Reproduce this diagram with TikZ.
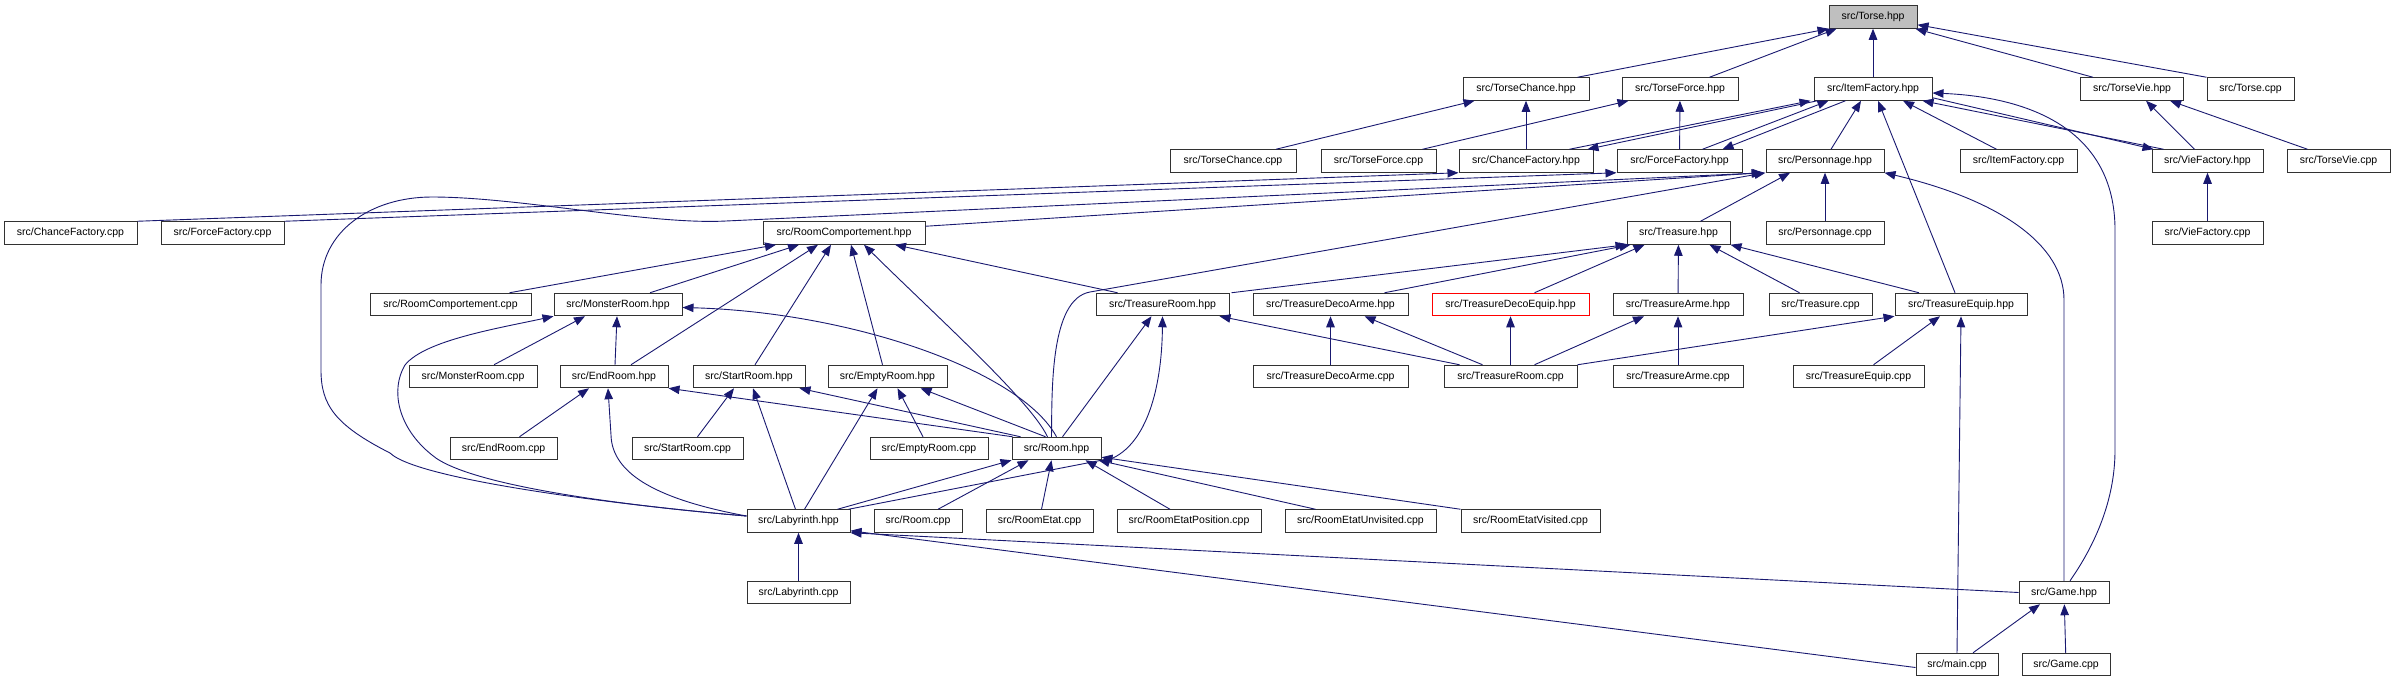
\documentclass[tikz,border=0pt]{standalone}
\usepackage{fontspec}
\setmainfont{Liberation Sans}
\usetikzlibrary{arrows.meta,calc}
\definecolor{navy}{RGB}{25,25,112}
\definecolor{boxline}{RGB}{50,50,50}
\tikzset{
  box/.style={draw=boxline, line width=1pt, fill=white, minimum height=22.5pt, inner sep=0pt,
    font=\fontsize{10.5pt}{12pt}\selectfont},
  root/.style={box, fill=black!25},
  redbox/.style={box, draw=red},
  inc/.style={draw=navy, line width=0.9pt, -{Triangle[length=11pt,width=8.5pt]}},
}
\begin{document}
\begin{tikzpicture}[x=1pt,y=-1pt]
\useasboundingbox (0,0) rectangle (2395,683);
% row 0
\node[root, minimum width=88pt] (torse) at (1873,17) {src/Torse.hpp};
% row 1
\node[box, minimum width=126pt] (tcH) at (1526,89) {src/TorseChance.hpp};
\node[box, minimum width=116pt] (tfH) at (1680,89) {src/TorseForce.hpp};
\node[box, minimum width=118pt] (itemH) at (1873,89) {src/ItemFactory.hpp};
\node[box, minimum width=103pt] (tvH) at (2132,89) {src/TorseVie.hpp};
\node[box, minimum width=87pt] (torseCpp) at (2250.5,89) {src/Torse.cpp};
% row 2
\node[box, minimum width=126pt] (tcCpp) at (1233,161) {src/TorseChance.cpp};
\node[box, minimum width=115pt] (tfCpp) at (1378.5,161) {src/TorseForce.cpp};
\node[box, minimum width=134pt] (cfH) at (1526,161) {src/ChanceFactory.hpp};
\node[box, minimum width=125pt] (ffH) at (1679.5,161) {src/ForceFactory.hpp};
\node[box, minimum width=118pt] (persH) at (1825,161) {src/Personnage.hpp};
\node[box, minimum width=117pt] (itemCpp) at (2018.5,161) {src/ItemFactory.cpp};
\node[box, minimum width=111pt] (vfH) at (2207.5,161) {src/VieFactory.hpp};
\node[box, minimum width=103pt] (tvCpp) at (2338.5,161) {src/TorseVie.cpp};
% row 3
\node[box, minimum width=133pt] (cfCpp) at (70.5,233) {src/ChanceFactory.cpp};
\node[box, minimum width=123pt] (ffCpp) at (222.5,233) {src/ForceFactory.cpp};
\node[box, minimum width=162pt] (rcH) at (844,233) {src/RoomComportement.hpp};
\node[box, minimum width=103pt] (treasH) at (1678.5,233) {src/Treasure.hpp};
\node[box, minimum width=118pt] (persCpp) at (1825,233) {src/Personnage.cpp};
\node[box, minimum width=111pt] (vfCpp) at (2207.5,233) {src/VieFactory.cpp};
% row 4
\node[box, minimum width=161pt] (rcCpp) at (450.5,304.5) {src/RoomComportement.cpp};
\node[box, minimum width=128pt] (mrH) at (618,304.5) {src/MonsterRoom.hpp};
\node[box, minimum width=133pt] (trH) at (1162.5,304.5) {src/TreasureRoom.hpp};
\node[box, minimum width=155pt] (tdaH) at (1330.5,304.5) {src/TreasureDecoArme.hpp};
\node[redbox, minimum width=157pt] (tdeH) at (1510.5,304.5) {src/TreasureDecoEquip.hpp};
\node[box, minimum width=130pt] (taH) at (1678,304.5) {src/TreasureArme.hpp};
\node[box, minimum width=103pt] (treasCpp) at (1820.5,304.5) {src/Treasure.cpp};
\node[box, minimum width=132pt] (teH) at (1961,304.5) {src/TreasureEquip.hpp};
% row 5
\node[box, minimum width=128pt] (mrCpp) at (473,376.5) {src/MonsterRoom.cpp};
\node[box, minimum width=108pt] (erH) at (614,376.5) {src/EndRoom.hpp};
\node[box, minimum width=112pt] (srH) at (749,376.5) {src/StartRoom.hpp};
\node[box, minimum width=119pt] (emH) at (887.5,376.5) {src/EmptyRoom.hpp};
\node[box, minimum width=155pt] (tdaCpp) at (1330.5,376.5) {src/TreasureDecoArme.cpp};
\node[box, minimum width=133pt] (trCpp) at (1510.5,376.5) {src/TreasureRoom.cpp};
\node[box, minimum width=130pt] (taCpp) at (1678,376.5) {src/TreasureArme.cpp};
\node[box, minimum width=131pt] (teCpp) at (1858.5,376.5) {src/TreasureEquip.cpp};
% row 6
\node[box, minimum width=107pt] (erCpp) at (503.5,448.5) {src/EndRoom.cpp};
\node[box, minimum width=111pt] (srCpp) at (687.5,448.5) {src/StartRoom.cpp};
\node[box, minimum width=118pt] (emCpp) at (929,448.5) {src/EmptyRoom.cpp};
\node[box, minimum width=89pt] (roomH) at (1056.5,448.5) {src/Room.hpp};
% row 7
\node[box, minimum width=103pt] (labH) at (798.5,521) {src/Labyrinth.hpp};
\node[box, minimum width=88pt] (roomCpp) at (918,521) {src/Room.cpp};
\node[box, minimum width=107pt] (reCpp) at (1039.5,521) {src/RoomEtat.cpp};
\node[box, minimum width=144pt] (repCpp) at (1189,521) {src/RoomEtatPosition.cpp};
\node[box, minimum width=151pt] (reuCpp) at (1360.5,521) {src/RoomEtatUnvisited.cpp};
\node[box, minimum width=139pt] (revCpp) at (1530.5,521) {src/RoomEtatVisited.cpp};
% row 8
\node[box, minimum width=103pt] (labCpp) at (798.5,592.5) {src/Labyrinth.cpp};
\node[box, minimum width=90pt] (gameH) at (2064,592.5) {src/Game.hpp};
% row 9
\node[box, minimum width=82pt] (mainCpp) at (1957,664.5) {src/main.cpp};
\node[box, minimum width=88pt] (gameCpp) at (2066,664.5) {src/Game.cpp};

% ---- edges into Torse.hpp
\draw[inc] ([xshift=-12pt]tcH.north east) -- (torse.south west);
\draw[inc] ([xshift=-29pt]tfH.north east) -- ([xshift=8pt]torse.south west);
\draw[inc] (itemH) -- (torse);
\draw[inc] ([xshift=13pt]tvH.north west) -- ([xshift=-2pt]torse.south east);
\draw[inc] (torseCpp.north west) -- ([yshift=4pt]torse.south east);
% TorseChance / TorseForce / TorseVie
\draw[inc] ([xshift=43pt]tcCpp.north) -- ([xshift=12pt]tcH.south west);
\draw[inc] (cfH) -- (tcH);
\draw[inc] ([xshift=44pt]tfCpp.north) -- ([xshift=7pt]tfH.south west);
\draw[inc] (ffH) -- (tfH);
\draw[inc] ([xshift=-13pt]vfH.north) -- ([xshift=14pt]tvH.south);
\draw[inc] ([xshift=-31pt]tvCpp.north) -- ([xshift=38pt]tvH.south);
% VieFactory
\draw[inc] (vfCpp) -- (vfH);
% ItemFactory cycles
\draw[inc] ([xshift=-24pt]cfH.north east) -- ([xshift=-3pt]itemH.south west);
\draw[inc] ([xshift=4pt]itemH.south west) -- ([xshift=-6pt]cfH.north east);
\draw[inc] ([xshift=-40pt]ffH.north east) -- ([xshift=15pt]itemH.south west);
\draw[inc] ([xshift=32pt]itemH.south west) -- ([xshift=-20pt]ffH.north east);
\draw[inc] ([xshift=12pt]vfH.north west) -- ([xshift=-10pt]itemH.south east);
\draw[inc] ([yshift=3pt]itemH.south east) -- ([xshift=2pt]vfH.north west);
\draw[inc] ([xshift=6pt]persH.north) -- ([xshift=-12pt]itemH.south);
\draw[inc] ([xshift=-22pt]itemCpp.north) -- ([xshift=30pt]itemH.south);
\draw[inc] ([xshift=-6pt]teH.north) -- ([xshift=5pt]itemH.south);
\draw[inc] ([xshift=6pt]gameH.north) .. controls (2095,545) and (2115,500) .. (2115,450)
   -- (2115,230) .. controls (2115,130) and (2030,97) .. ([yshift=-4pt]itemH.east);
% Personnage
\draw[inc] (persCpp) -- (persH);
\draw[inc] (gameH.north) -- (2064,300) .. controls (2064,245) and (2000,200) .. (persH.south east);
\draw[inc] ([xshift=22pt]treasH.north) -- ([xshift=-35pt]persH.south);
\draw[inc] ([xshift=-5pt]roomH.north) .. controls (1052,390) and (1050,299) .. (1090,292) -- (persH.south west);
\draw[inc] ([yshift=5pt]labH.west) .. controls (650,508) and (420,482) .. (390,453)
   .. controls (335,425) and (321,405) .. (321,370) -- (321,285)
   .. controls (321,232) and (370,197) .. (432,197)
   .. controls (520,197) and (650,225) .. (726,221) -- ([xshift=-2pt]persH.south west);
\draw[inc] ([yshift=-5pt]rcH.north east) -- ([xshift=-3pt]persH.south west);
% ChanceFactory.cpp / ForceFactory.cpp
\draw[inc] (cfCpp.north east) -- (cfH.south west);
\draw[inc] (ffCpp.north east) -- (ffH.south west);
% RoomComportement
\draw[inc] ([xshift=-22pt]rcCpp.north east) -- ([xshift=-68pt]rcH.south);
\draw[inc] ([xshift=32pt]mrH.north) -- ([xshift=-45pt]rcH.south);
\draw[inc] ([xshift=17pt]erH.north) -- ([xshift=-26pt]rcH.south);
\draw[inc] ([xshift=6pt]srH.north) -- ([xshift=-13pt]rcH.south);
\draw[inc] ([xshift=-5pt]emH.north) -- ([xshift=7pt]rcH.south);
\draw[inc] ([xshift=-9pt]roomH.north) .. controls (1030,400) and (935,315) .. ([xshift=20pt]rcH.south);
\draw[inc] ([xshift=-45pt]trH.north) -- ([xshift=51pt]rcH.south);
% MonsterRoom
\draw[inc] ([xshift=21pt]mrCpp.north) -- ([xshift=-33pt]mrH.south);
\draw[inc] ([xshift=1pt]erH.north) -- ([xshift=-1pt]mrH.south);
\draw[inc] (roomH.north) .. controls (1020,370) and (850,312) .. ([yshift=-3pt]mrH.east);
\draw[inc] ([yshift=5pt]labH.west) .. controls (650,508) and (470,488) .. (432,455)
   .. controls (398,428) and (390,390) .. (405,365) .. controls (425,340) and (500,328) .. (mrH.south west);
% EndRoom
\draw[inc] ([xshift=16pt]erCpp.north) -- ([xshift=-25pt]erH.south);
\draw[inc] ([xshift=1pt]roomH.north west) -- (erH.south east);
\draw[inc] ([yshift=5pt]labH.west) .. controls (660,500) and (612,475) .. (611,435) -- ([xshift=-6pt]erH.south);
% StartRoom
\draw[inc] ([xshift=10pt]srCpp.north) -- ([xshift=-15pt]srH.south);
\draw[inc] ([xshift=-3pt]labH.north) -- ([xshift=4pt]srH.south);
\draw[inc] ([xshift=9pt]roomH.north west) -- ([xshift=-6pt]srH.south east);
% EmptyRoom
\draw[inc] ([xshift=6pt]labH.north) -- ([xshift=-10pt]emH.south);
\draw[inc] ([xshift=-6pt]emCpp.north) -- ([xshift=10pt]emH.south);
\draw[inc] ([xshift=-11pt]roomH.north) -- ([xshift=33pt]emH.south);
% TreasureRoom
\draw[inc] ([xshift=6pt]roomH.north) -- ([xshift=-11pt]trH.south);
\draw[inc] ([xshift=-2pt]labH.north east) -- (1113,458) .. controls (1150,440) and (1162,380) .. (trH.south);
\draw[inc] ([xshift=16pt]trCpp.north west) -- ([xshift=-10pt]trH.south east);
% Treasure
\draw[inc] ([xshift=2pt]trH.north east) -- (treasH.south west);
\draw[inc] ([xshift=-24pt]tdaH.north east) -- ([xshift=4pt]treasH.south west);
\draw[inc] ([xshift=24pt]tdeH.north) -- ([xshift=-34pt]treasH.south);
\draw[inc] (taH) -- (treasH);
\draw[inc] ([xshift=-21pt]treasCpp.north) -- ([xshift=31pt]treasH.south);
\draw[inc] ([xshift=-42pt]teH.north) -- (treasH.south east);
% TreasureDecoArme / DecoEquip / Arme / Equip
\draw[inc] (tdaCpp) -- (tdaH);
\draw[inc] ([xshift=-28pt]trCpp.north) -- ([xshift=34pt]tdaH.south);
\draw[inc] (trCpp) -- (tdeH);
\draw[inc] ([xshift=24pt]trCpp.north) -- ([xshift=-34pt]taH.south);
\draw[inc] (taCpp) -- (taH);
\draw[inc] (trCpp.north east) -- (teH.south west);
\draw[inc] ([xshift=15pt]teCpp.north) -- ([xshift=-21pt]teH.south);
\draw[inc] (mainCpp.north) -- (teH.south);
% Room
\draw[inc] ([xshift=-13pt]labH.north east) -- (roomH.south west);
\draw[inc] ([xshift=20pt]roomCpp.north) -- ([xshift=-28pt]roomH.south);
\draw[inc] ([xshift=2pt]reCpp.north) -- ([xshift=-5pt]roomH.south);
\draw[inc] ([xshift=-19pt]repCpp.north) -- ([xshift=29pt]roomH.south);
\draw[inc] ([xshift=31pt]reuCpp.north west) -- ([xshift=-3pt]roomH.south east);
\draw[inc] (revCpp.north west) -- ([yshift=3pt]roomH.south east);
% Labyrinth
\draw[inc] (labCpp) -- (labH);
\draw[inc] (gameH.west) -- (labH.south east);
\draw[inc] ([yshift=-3pt]mainCpp.west) -- ([yshift=2pt]labH.south east);
% Game
\draw[inc] ([xshift=16pt]mainCpp.north) -- ([xshift=-24pt]gameH.south);
\draw[inc] (gameCpp) -- (gameH);
\end{tikzpicture}
\end{document}
